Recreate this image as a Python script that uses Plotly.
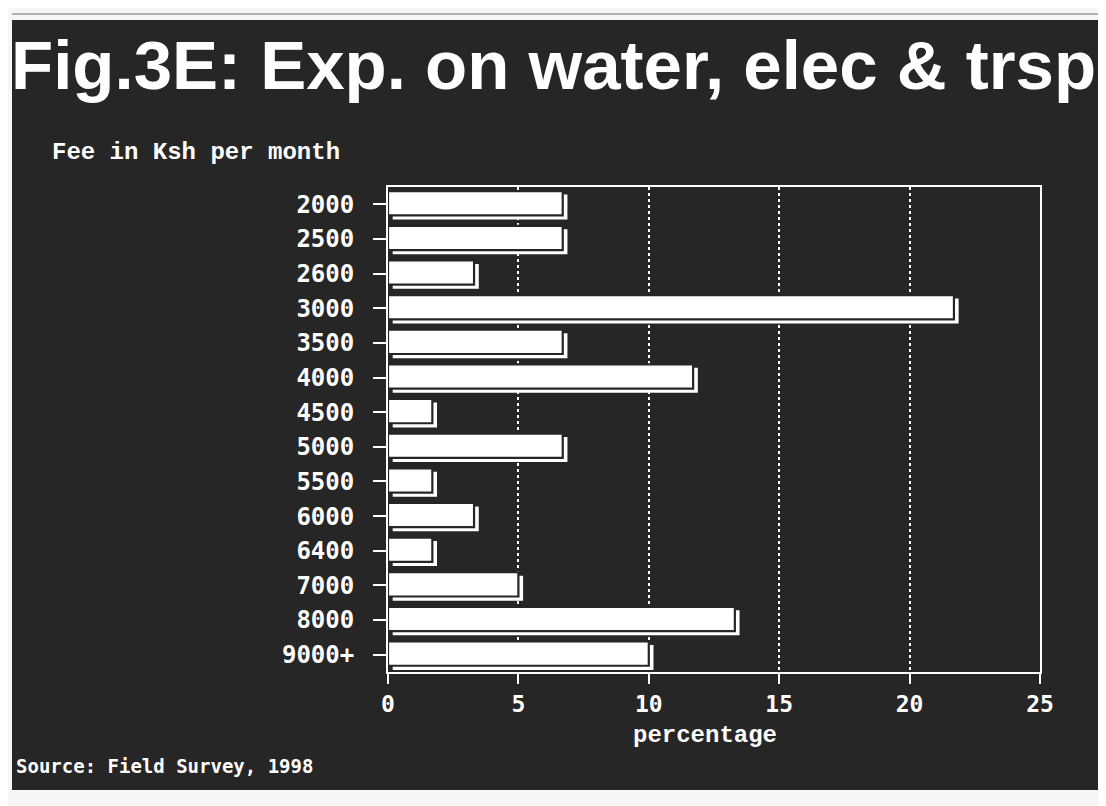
import plotly.graph_objects as go

categories = ["2000", "2500", "2600", "3000", "3500", "4000", "4500",
              "5000", "5500", "6000", "6400", "7000", "8000", "9000+"]
percentages = [6.7, 6.7, 3.3, 21.7, 6.7, 11.7, 1.7,
               6.7, 1.7, 3.3, 1.7, 5.0, 13.3, 10.0]
x_ticks = [0, 5, 10, 15, 20, 25]

# page body margin offset (8 px) compensation
OFF = 8
W, H = 1106 - OFF, 806 - OFF
L, R, T, B = 388 - OFF, 1040 - OFF, 187 - OFF, 672 - OFF
BG = "#262626"


def px(x):
    return (x - OFF - L) / (R - L)


def py(y):
    return (B - (y - OFF)) / (B - T)


fig = go.Figure()

# shadow (3D effect)
fig.add_trace(go.Bar(
    y=categories, x=percentages, base=0.18, orientation="h",
    width=0.72, offset=-0.28,
    marker=dict(color="white", line=dict(width=0)),
    hoverinfo="skip", showlegend=False,
))
# main bar
fig.add_trace(go.Bar(
    y=categories, x=percentages, orientation="h",
    width=0.70, offset=-0.38,
    marker=dict(color="white", line=dict(color=BG, width=2.2)),
    showlegend=False,
))

mono_b = "DejaVu Sans Mono"
serif_mono = "Liberation Mono"

fig.update_layout(
    width=W, height=H,
    margin=dict(l=L, r=W - R, t=T, b=H - B),
    paper_bgcolor="#f6f6f6",
    plot_bgcolor="rgba(0,0,0,0)",
    barmode="overlay",
    bargap=0.3,
    xaxis=dict(
        range=[0, 25], tickvals=x_ticks, ticktext=[str(v) for v in x_ticks],
        showgrid=True, gridcolor="white", gridwidth=2, griddash="dot",
        zeroline=False, showline=True, linecolor="white", linewidth=2,
        mirror=True, ticks="outside", ticklen=10, tickwidth=2,
        tickcolor="white",
        tickfont=dict(family=mono_b, size=23, color="white", weight="bold"),
    ),
    yaxis=dict(
        type="category", categoryorder="array", categoryarray=categories,
        range=[13.5, -0.5], showgrid=False, zeroline=False,
        showline=True, linecolor="white", linewidth=2, mirror=True,
        ticks="outside", ticklen=13, tickwidth=2, tickcolor="white",
        ticklabelstandoff=14,
        tickfont=dict(family=mono_b, size=24, color="white", weight="bold"),
    ),
    shapes=[
        dict(type="rect", xref="paper", yref="paper", layer="below",
             x0=px(12), x1=px(1103), y0=py(20), y1=py(790),
             fillcolor=BG, line=dict(width=0)),
        dict(type="line", xref="paper", yref="paper", layer="below",
             x0=px(12), x1=px(1103), y0=py(14), y1=py(14),
             line=dict(color="#999999", width=1.5)),
    ],
    annotations=[
        dict(text="Fig.3E: Exp. on water, elec & trsp", xref="paper",
             yref="paper", x=px(553), y=py(65), xanchor="center",
             yanchor="middle", showarrow=False,
             font=dict(family="Liberation Sans", size=69, color="white",
                       weight="bold")),
        dict(text="Fee in Ksh per month", xref="paper", yref="paper",
             x=px(50), y=py(152), xanchor="left", yanchor="middle",
             showarrow=False,
             font=dict(family=serif_mono, size=24, color="white",
                       weight="bold")),
        dict(text="percentage", xref="paper", yref="paper",
             x=px(705), y=py(735), xanchor="center", yanchor="middle",
             showarrow=False,
             font=dict(family=serif_mono, size=24, color="white",
                       weight="bold")),
        dict(text="Source: Field Survey, 1998", xref="paper", yref="paper",
             x=px(14), y=py(766), xanchor="left", yanchor="middle",
             showarrow=False,
             font=dict(family=mono_b, size=19, color="white",
                       weight="bold")),
    ],
)

fig.write_html("out.html")
